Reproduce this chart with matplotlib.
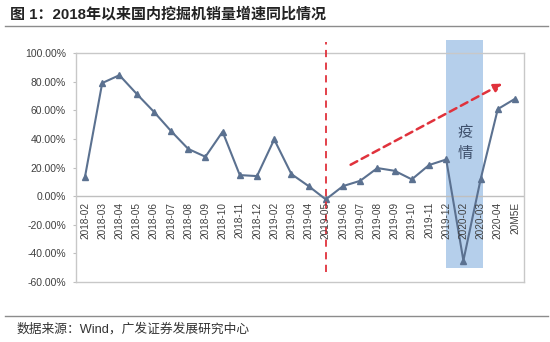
import matplotlib
matplotlib.use("Agg")
import matplotlib.pyplot as plt
from matplotlib.patches import Rectangle
from matplotlib.ticker import FuncFormatter
import numpy as np

plt.rcParams['font.family'] = ['Liberation Sans', 'Noto Sans CJK SC', 'DejaVu Sans']

categories = ["2018-02", "2018-03", "2018-04", "2018-05", "2018-06", "2018-07",
              "2018-08", "2018-09", "2018-10", "2018-11", "2018-12",
              "2019-02", "2019-03", "2019-04", "2019-05", "2019-06", "2019-07",
              "2019-08", "2019-09", "2019-10", "2019-11", "2019-12",
              "2020-02", "2020-03", "2020-04", "20M5E"]
growth = [13.5, 79.0, 84.5, 71.5, 59.0, 45.5, 33.0, 27.5, 45.0, 14.7, 14.0,
          39.6, 15.4, 7.0, -2.3, 7.0, 10.7, 19.6, 17.7, 11.7, 21.7, 25.6,
          -45.0, 11.7, 60.8, 68.0]
yticks = [-60, -40, -20, 0, 20, 40, 60, 80, 100]
title = "图 1：2018年以来国内挖掘机销量增速同比情况"
source = "数据来源：Wind，广发证券发展研究中心"
epidemic_label = "疫\n情"

fig = plt.figure(figsize=(5.5, 3.42), dpi=100)
ax = fig.add_axes([76.4 / 550, 1 - 282 / 342, (523.6 - 76.4) / 550, (282 - 53) / 342])

x = np.arange(len(categories))
line_color = "#5b7190"

# shaded epidemic period
ax.add_patch(Rectangle((21.0, -50), 2.15, 159, facecolor="#b5cfeb", edgecolor="none",
                       zorder=1, clip_on=False))

ax.plot(x, growth, color=line_color, lw=1.5, marker="^", markersize=5,
        markerfacecolor=line_color, markeredgecolor=line_color, zorder=3)

ax.axhline(0, color="#bfbfbf", lw=1.0, zorder=2)

# red dashed vertical line
ax.plot([14, 14], [-53, 108], color="#e0323c", lw=1.3, ls=(0, (4, 3)),
        clip_on=False, zorder=4)

# red dashed arrow
ax.annotate("", xy=(24.4, 79.5), xytext=(15.3, 21.0),
            arrowprops=dict(arrowstyle="-|>", color="#e0323c", lw=1.8,
                            linestyle=(0, (3, 2)), mutation_scale=12),
            zorder=4)

ax.text(22.1, 37, epidemic_label, ha="center", va="center", fontsize=11,
        color="#3d4f6b", linespacing=1.3, family=['Noto Sans CJK SC'])

ax.set_xlim(-0.5, len(categories) - 0.5)
ax.set_ylim(-60, 100)
ax.set_yticks(yticks)
ax.yaxis.set_major_formatter(FuncFormatter(lambda v, p: f"{v:.2f}%"))
ax.tick_params(axis="y", labelsize=7.5, labelcolor="#404040", length=2.5,
               color="#bfbfbf", pad=5)
ax.set_xticks([])
for i, c in enumerate(categories):
    ax.annotate(c, xy=(i, 0), xytext=(0, -4), textcoords="offset points",
                rotation=90, ha="center", va="top", fontsize=7.2, color="#404040",
                zorder=5)

for s in ax.spines.values():
    s.set_color("#c8c8c8")
    s.set_linewidth(1.0)

# title
fig.text(10 / 550, 1 - 14 / 342, title, fontsize=10.8, fontweight="bold",
         color="#222222", va="center", ha="left")
fig.add_artist(plt.Line2D([5 / 550, 548 / 550], [1 - 26 / 342, 1 - 26 / 342],
                          color="#8c8c8c", lw=1.0))
# source
fig.add_artist(plt.Line2D([5 / 550, 548 / 550], [1 - 316 / 342, 1 - 316 / 342],
                          color="#8c8c8c", lw=1.0))
fig.text(17 / 550, 1 - 329 / 342, source, fontsize=9.2, color="#333333",
         va="center", ha="left")

fig.savefig("out.png", dpi=100)
